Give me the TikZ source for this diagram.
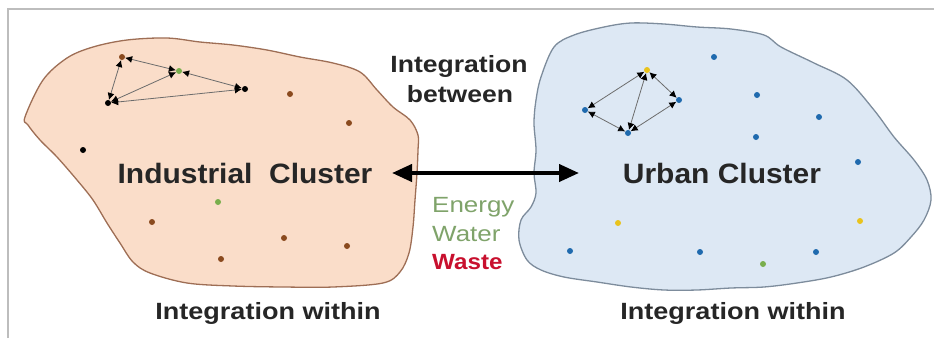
\documentclass[tikz,border=0pt]{standalone}
\usepackage{fontspec}
\setmainfont{Liberation Sans}
\usetikzlibrary{arrows.meta}
\definecolor{peach}{HTML}{FADDC9}
\definecolor{peachline}{HTML}{9E6E55}
\definecolor{skyfill}{HTML}{DDE8F4}
\definecolor{skyline}{HTML}{7D8C9C}
\definecolor{dotbrown}{HTML}{8A4A1E}
\definecolor{dotblue}{HTML}{1F6AAE}
\definecolor{dotyellow}{HTML}{E9C31C}
\definecolor{dotgreen}{HTML}{79AE4C}
\definecolor{flowgreen}{HTML}{7FA36A}
\definecolor{flowred}{HTML}{C8102E}
\definecolor{framegray}{HTML}{BDBDBD}
\newcommand\wide[2]{\scalebox{#1}[1]{#2}}
\tikzset{
  blob/.style={line width=1.3pt},
  dot/.style={circle, inner sep=0pt, minimum size=6pt},
  netnode/.style={circle, inner sep=0pt, minimum size=6pt},
  link/.style={draw=gray!85!black, line width=0.8pt,
    {Latex[length=7pt,width=7pt,black]}-{Latex[length=7pt,width=7pt,black]},
    shorten <=0pt, shorten >=0pt},
  clusterlabel/.style={font=\fontsize{28}{30}\selectfont\bfseries, text=black!85, inner sep=0pt},
  caption/.style={font=\fontsize{23.5}{26}\selectfont\bfseries, text=black!85, inner sep=0pt},
  flow/.style={font=\fontsize{22}{24}\selectfont, inner sep=0pt, anchor=west},
  bigarrow/.style={line width=4pt, {Triangle[length=20pt,width=17pt]}-{Triangle[length=20pt,width=17pt]}}
}
\begin{document}
\begin{tikzpicture}[x=1pt,y=-1pt]
\useasboundingbox (0,0) rectangle (934,338);
% page frame
\draw[framegray, line width=1.5pt] (8,338) -- (8,9) -- (934,9);

% industrial cluster outline
\filldraw[blob, fill=peach, draw=peachline] plot[smooth cycle, tension=0.55] coordinates {
  (25,117) (43,80) (67,58) (93,47) (127,40) (167,38) (200,42) (233,45) (267,50)
  (300,57) (333,63) (360,72) (377,90) (393,107) (410,120) (418,135) (418,150)
  (417,173) (415,200) (413,227) (409,253) (400,272) (383,283) (333,287) (283,287)
  (233,286) (187,283) (150,273) (133,262) (120,243) (107,223) (93,200) (77,180)
  (57,157) (40,140) (28,125)};

% urban cluster outline
\filldraw[blob, fill=skyfill, draw=skyline] plot[smooth cycle, tension=0.55] coordinates {
  (541,77) (554,47) (574,35) (604,27) (631,23) (664,24) (697,27) (731,29) (764,35)
  (781,47) (814,63) (847,80) (874,110) (894,137) (914,160) (927,180) (931,200)
  (924,220) (911,237) (894,253) (864,267) (831,277) (797,283) (764,287) (731,288)
  (697,290) (664,290) (631,287) (597,282) (564,277) (541,270) (527,260) (519,240)
  (521,220) (531,207) (536,193) (534,173) (536,150) (534,123) (536,100)};

% industrial scattered members
\node[dot, fill=dotbrown] (i1) at (290,94) {};
\node[dot, fill=dotbrown] (i2) at (349,123) {};
\node[dot, fill=black] (i3) at (83,150) {};
\node[dot, fill=dotgreen] (i4) at (218,202) {};
\node[dot, fill=dotbrown] (i5) at (152,222) {};
\node[dot, fill=dotbrown] (i6) at (284,238) {};
\node[dot, fill=dotbrown] (i7) at (347,246) {};
\node[dot, fill=dotbrown] (i8) at (221,259) {};

% industrial exchange network
\node[netnode, fill=dotbrown] (ia) at (122,57) {};
\node[netnode, fill=dotgreen] (ib) at (179,71) {};
\node[netnode, fill=black] (ic) at (245,89) {};
\node[netnode, fill=black] (id) at (108,103) {};
\draw[link] (ia) -- (id);
\draw[link] (ia) -- (ib);
\draw[link] (ib) -- (ic);
\draw[link] (ib) -- (id);
\draw[link] (id) -- (ic);

% urban scattered members
\node[dot, fill=dotblue] (u1) at (714,57) {};
\node[dot, fill=dotblue] (u2) at (757,95) {};
\node[dot, fill=dotblue] (u3) at (819,117) {};
\node[dot, fill=dotblue] (u4) at (756,137) {};
\node[dot, fill=dotblue] (u5) at (858,162) {};
\node[dot, fill=dotyellow] (u6) at (618,223) {};
\node[dot, fill=dotyellow] (u7) at (860,221) {};
\node[dot, fill=dotblue] (u8) at (570,251) {};
\node[dot, fill=dotblue] (u9) at (700,252) {};
\node[dot, fill=dotgreen] (u10) at (763,264) {};
\node[dot, fill=dotblue] (u11) at (816,252) {};

% urban exchange network
\node[netnode, fill=dotyellow] (ua) at (647,70) {};
\node[netnode, fill=dotblue] (ub) at (679,100) {};
\node[netnode, fill=dotblue] (uc) at (585,110) {};
\node[netnode, fill=dotblue] (ud) at (628,133) {};
\draw[link] (ua) -- (uc);
\draw[link] (ua) -- (ud);
\draw[link] (ua) -- (ub);
\draw[link] (ub) -- (ud);
\draw[link] (uc) -- (ud);

% labels
\node[clusterlabel] (ind) at (245,173) {\wide{1.07}{Industrial\ \ Cluster}};
\node[clusterlabel] (urb) at (722,173) {\wide{1.07}{Urban Cluster}};
\node[caption] (between1) at (459,66) {\wide{1.13}{Integration}};
\node[caption] (between2) at (460,94) {\wide{1.13}{between}};
\node[caption] (within1) at (268,313) {\wide{1.15}{Integration within}};
\node[caption] (within2) at (733,313) {\wide{1.15}{Integration within}};
\node[flow, text=flowgreen] (energy) at (432,207) {\wide{1.18}{Energy}};
\node[flow, text=flowgreen] (water) at (432,234) {\wide{1.18}{Water}};
\node[flow, text=flowred, font=\fontsize{22}{24}\selectfont\bfseries] (waste) at (432,262) {\wide{1.1}{Waste}};

% exchange between the clusters
\coordinate (left end) at (392,173);
\coordinate (right end) at (579,173);
\draw[bigarrow] (left end) -- (right end);
\end{tikzpicture}
\end{document}
